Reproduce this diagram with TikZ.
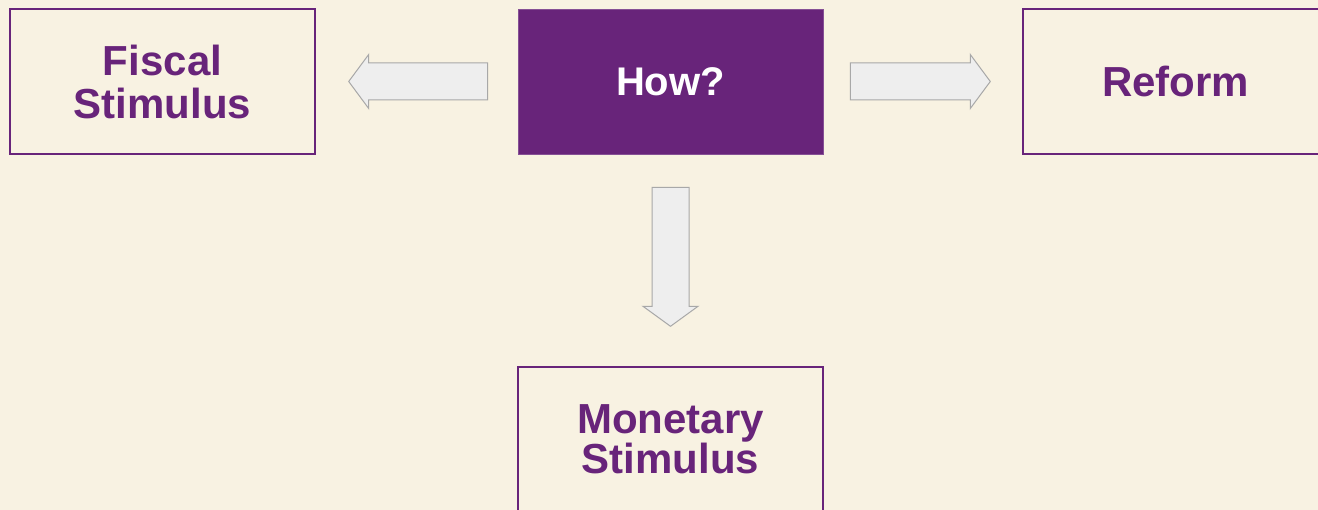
\documentclass[tikz,border=0pt]{standalone}
\usepackage{fontspec}
\setmainfont{Liberation Sans}
\usetikzlibrary{calc}
\definecolor{bg}{HTML}{F8F2E2}
\definecolor{purp}{HTML}{68247A}
\definecolor{arrfill}{HTML}{EEEEEE}
\definecolor{arrline}{HTML}{A8A8A8}
\tikzset{
  box/.style={draw=purp, line width=1.4pt, minimum width=305pt, minimum height=145pt, inner sep=0pt, align=center, font=\fontsize{42}{43}\selectfont\bfseries, text=purp},
  howbox/.style={box, fill=purp, draw=purp!80!white, line width=0.8pt, text=white, font=\fontsize{40}{43}\selectfont\bfseries},
  blockarrow/.style={fill=arrfill, draw=arrline, line width=1pt, line join=miter}
}
\begin{document}
\begin{tikzpicture}[x=1pt,y=-1pt]
\fill[bg] (0,0) rectangle (1318,510);
\useasboundingbox (0,0) rectangle (1318,510);
\node[box] (fiscal) at (162.5,81.5) {Fiscal\\Stimulus};
\node[howbox] (how) at (670.5,81.5) {How?};
\node[box] (reform) at (1175.5,81.5) {Reform};
\node[box, font=\fontsize{42}{40.5}\selectfont\bfseries] (monetary) at (670.5,439.5) {Monetary\\Stimulus};
% left arrow
\coordinate (la) at ($(how.west)+(-30,0)$);
\coordinate (lt) at ($(fiscal.east)+(33,0)$);
\draw[blockarrow] ($(la)+(0,-18.5)$) -- ($(lt)+(20,-18.5)$) -- ($(lt)+(20,-27)$) -- (lt) -- ($(lt)+(20,27)$) -- ($(lt)+(20,18.5)$) -- ($(la)+(0,18.5)$) -- cycle;
% right arrow
\coordinate (ra) at ($(how.east)+(27,0)$);
\coordinate (rt) at ($(reform.west)+(-32,0)$);
\draw[blockarrow] ($(ra)+(0,-18.5)$) -- ($(rt)+(-20,-18.5)$) -- ($(rt)+(-20,-27)$) -- (rt) -- ($(rt)+(-20,27)$) -- ($(rt)+(-20,18.5)$) -- ($(ra)+(0,18.5)$) -- cycle;
% down arrow
\coordinate (da) at ($(how.south)+(0,33)$);
\coordinate (dt) at ($(monetary.north)+(0,-40)$);
\draw[blockarrow] ($(da)+(-18.5,0)$) -- ($(dt)+(-18.5,-20)$) -- ($(dt)+(-27.5,-20)$) -- (dt) -- ($(dt)+(27.5,-20)$) -- ($(dt)+(18.5,-20)$) -- ($(da)+(18.5,0)$) -- cycle;
\end{tikzpicture}
\end{document}
